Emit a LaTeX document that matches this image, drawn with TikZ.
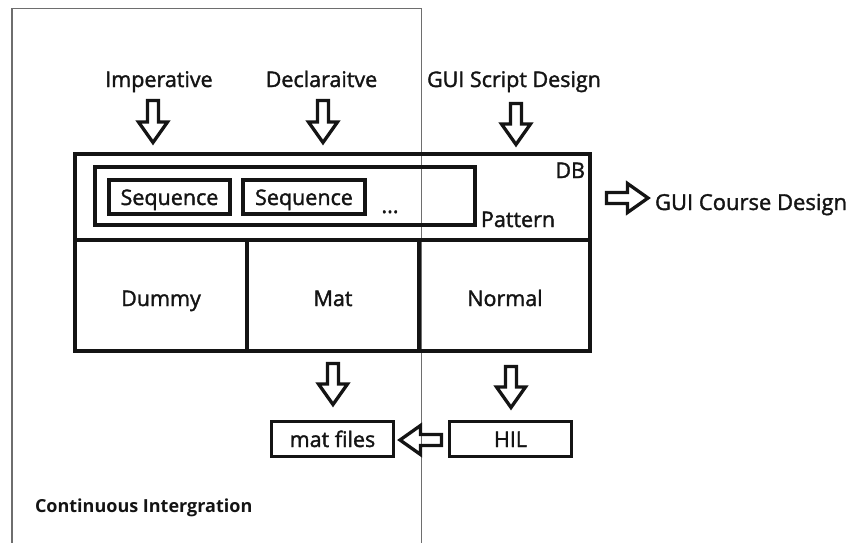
\documentclass[tikz,border=0pt]{standalone}
\usepackage{fontspec}
\setmainfont{Open Sans}
\newfontfamily\lblfont{Open Sans}[FakeBold=1.6]
\newfontfamily\cifont{Open Sans Bold}
\usetikzlibrary{calc}
\definecolor{ink}{HTML}{141414}
\definecolor{framegray}{HTML}{6E6E6E}
% hollow block arrow geometry
\def\arrsw{5.5pt}
\def\arrhw{14.5pt}
\def\arrhl{20.5pt}
\tikzset{
  lbl/.style={inner sep=0pt, outer sep=0pt, text=ink, font=\lblfont\fontsize{21.5}{26}\selectfont},
  box/.style={draw=ink, line width=3.8pt, inner sep=0pt, outer sep=0pt},
  txtbox/.style={box, line width=3.4pt, text=ink, font=\lblfont\fontsize{21.5}{26}\selectfont,
    text height=16pt, text depth=0pt},
  frame/.style={draw=framegray, line width=1.4pt},
  hollow/.style={draw=ink, line width=3.3pt, line join=miter, to path={
    let \p1=(\tikztostart), \p2=(\tikztotarget), \p3=($(\p2)!\arrhl!(\p1)$) in
    ($(\p1)!\arrsw!90:(\p2)$) -- ($(\p3)!\arrsw!-90:(\p1)$) -- ($(\p3)!\arrhw!-90:(\p1)$)
    -- (\p2) -- ($(\p3)!\arrhw!90:(\p1)$) -- ($(\p3)!\arrsw!90:(\p1)$)
    -- ($(\p1)!\arrsw!-90:(\p2)$) -- cycle}},
}
\begin{document}
\begin{tikzpicture}[x=1pt,y=-1pt]
\path[use as bounding box, clip] (0,0) rectangle (855,542);
\fill[white] (0,0) rectangle (855,542);

% continuous integration frame, open at the bottom
\draw[frame] (12,560) -- (12,8.5) -- (421.5,8.5) -- (421.5,560);

% inputs
\node[lbl, anchor=base] (imp) at (159,87) {Imperative};
\node[lbl, anchor=base] (decl) at (321.5,87) {Declaraitve};
\node[lbl, anchor=base] (gsd) at (514,87) {GUI Script Design};

% database block
\node[box, line width=4.3pt, minimum width=515pt, minimum height=197pt] (db) at (332.5,252.5) {};
\coordinate (rowL) at (75,240);
\coordinate (rowR) at (590,240);
\coordinate (colA) at (247,240);
\coordinate (colB) at (419,240);
\draw[box, line width=4.3pt] (rowL) -- (rowR);
\draw[box, line width=4.3pt] (colA) -- (colA |- db.south);
\draw[box, line width=4.3pt] (colB) -- (colB |- db.south);
\node[lbl, anchor=base east] (dblbl) at (585,178) {DB};

% pattern with its sequences
\node[box, minimum width=380pt, minimum height=58pt] (pat) at (285,196) {};
\node[lbl, anchor=base west] (patlbl) at (481,227) {Pattern};
\node[txtbox, line width=3.8pt, minimum width=121pt, minimum height=34pt] (seqa) at (169.5,197) {Sequence};
\node[txtbox, line width=3.8pt, minimum width=122pt, minimum height=34pt] (seqb) at (304,197) {Sequence};
\node[lbl, anchor=base] (more) at (390,213) {...};

% execution modes
\node[lbl, anchor=base] (dummy) at (161,306) {Dummy};
\node[lbl, anchor=base] (mat) at (333,306) {Mat};
\node[lbl, anchor=base] (normal) at (505,306) {Normal};

% outputs
\node[lbl, anchor=base west, font=\lblfont\fontsize{22}{26}\selectfont] (gcd) at (655,210) {GUI Course Design};
\node[txtbox, minimum width=122pt, minimum height=35pt] (matf) at (332.5,439) {mat files};
\node[txtbox, minimum width=122pt, minimum height=35pt] (hil) at (510.5,439) {HIL};

\node[lbl, anchor=base west, font=\cifont\fontsize{18}{21}\selectfont] (ci) at (35,512) {Continuous Intergration};

% arrow end points
\coordinate (impT) at (153,100.5);   \coordinate (impH) at (153,142.5);
\coordinate (declT) at (323,100.5);  \coordinate (declH) at (323,142.5);
\coordinate (gsdT) at (516,103.5);   \coordinate (gsdH) at (516,144.5);
\coordinate (gcdT) at (606.5,198);   \coordinate (gcdH) at (648,198);
\coordinate (matT) at (333,363.5);   \coordinate (matH) at (333,404.5);
\coordinate (norT) at (511,366.5);   \coordinate (norH) at (511,407.5);
\coordinate (hilT) at (441.5,440);   \coordinate (hilH) at (400,440);

\draw[hollow] (impT) to (impH);
\draw[hollow] (declT) to (declH);
\draw[hollow] (gsdT) to (gsdH);
\draw[hollow] (gcdT) to (gcdH);
\draw[hollow] (matT) to (matH);
\draw[hollow] (norT) to (norH);
\draw[hollow] (hilT) to (hilH);
\end{tikzpicture}
\end{document}
